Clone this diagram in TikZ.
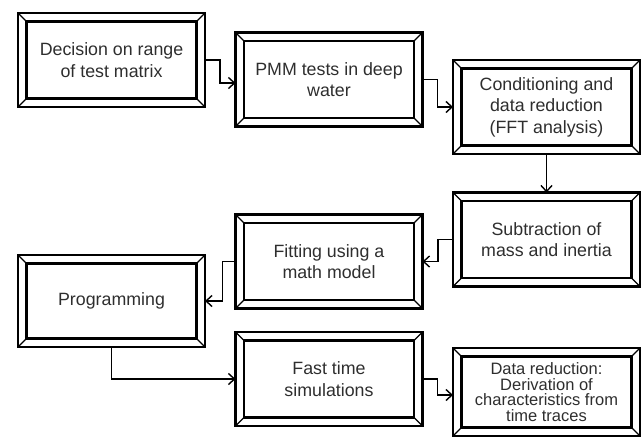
\documentclass[tikz,border=0pt]{standalone}
\usepackage{fontspec}
\setmainfont{Liberation Sans}
\usetikzlibrary{arrows.meta}
\begin{document}
\begin{tikzpicture}[x=1pt,y=-1pt,
  bev/.style={draw, line width=2.6pt, outer sep=0pt, inner sep=0pt,
    minimum width=187pt, minimum height=94pt, align=center, text=black!82,
    font=\fontsize{17.8}{21.5}\selectfont},
  arr/.style={line width=1.4pt, -{Straight Barb[length=6pt,width=11pt]}}]
\useasboundingbox (0,0) rectangle (642,437);
\node[bev] (b1) at (111.5,60) {Decision on range\\of test matrix};
\node[bev] (b2) at (329,79.5) {PMM tests in deep\\water};
\node[bev] (b3) at (546.5,107) {Conditioning and\\data reduction\\(FFT analysis)};
\node[bev] (b4) at (546.5,239.5) {Subtraction of\\mass and inertia};
\node[bev] (b5) at (329,261.5) {Fitting using a\\math model};
\node[bev, minimum height=92pt] (b6) at (111.5,301) {Programming};
\node[bev] (b7) at (329,379) {Fast time\\simulations};
\node[bev, minimum height=88pt, font=\fontsize{16.5}{15.8}\selectfont] (b8) at (546.5,392)
  {Data reduction:\\Derivation of\\characteristics from\\time traces};
\foreach \n in {b1,b2,b3,b4,b5,b6,b7,b8}{
  \draw[line width=2.2pt] ([shift={(8.5,8.5)}]\n.north west) rectangle ([shift={(-8.5,-8.5)}]\n.south east);
  \draw[line width=1.3pt] (\n.north west) -- ++(8.5,8.5);
  \draw[line width=1.3pt] (\n.north east) -- ++(-8.5,8.5);
  \draw[line width=1.3pt] (\n.south west) -- ++(8.5,-8.5);
  \draw[line width=1.3pt] (\n.south east) -- ++(-8.5,-8.5);
}
\draw[arr] (b1.east) -- ++(15,0) |- ([yshift=-3.5pt]b2.west);
\draw[arr] (b2.east) -- ++(15,0) |- (b3.west);
\draw[arr] (b3.south) -- (b4.north);
\draw[arr] (b4.west) -- ++(-15,0) |- (b5.east);
\draw[arr] (b5.west) -- ++(-13,0) |- (b6.east);
\draw[arr] (b6.south) |- (b7.west);
\draw[arr] (b7.east) -- ++(15,0) |- ([yshift=-3pt]b8.west);
\end{tikzpicture}
\end{document}
